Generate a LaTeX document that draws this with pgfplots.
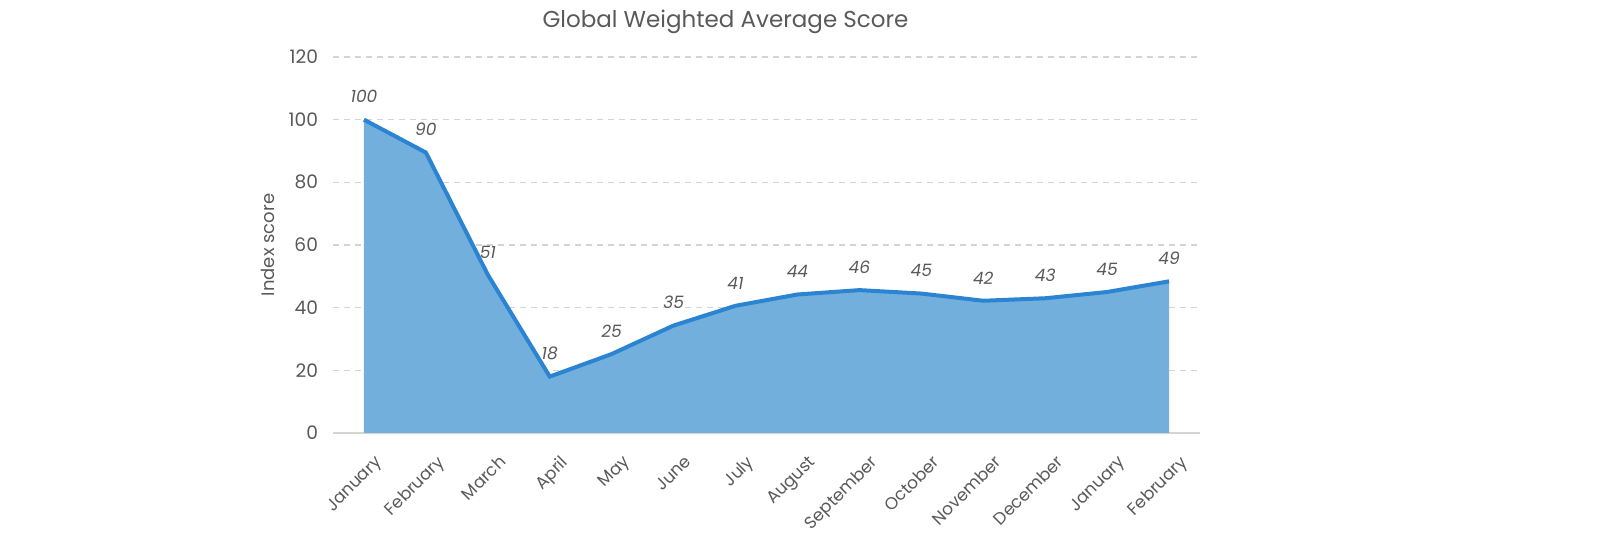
\documentclass[border=0pt]{standalone}
\usepackage{pgfplots}
\pgfplotsset{compat=1.18}
\usepackage{fontspec}
\setmainfont{Poppins}
\definecolor{linec}{HTML}{2B84D2}
\definecolor{fillc}{HTML}{72AFDD}
\definecolor{txt}{HTML}{595959}
\definecolor{gridc}{HTML}{D4D4D4}
\begin{document}
\begin{tikzpicture}
\useasboundingbox (0,0) rectangle (800pt,275pt);
\begin{axis}[
  at={(166.5pt,58.5pt)}, anchor=south west,
  scale only axis, width=433.5pt, height=188pt,
  xmin=-0.5, xmax=13.5, ymin=0, ymax=120,
  xtick={0,...,13},
  xticklabels={January,February,March,April,May,June,July,August,September,October,November,December,January,February},
  x tick label style={xshift=5pt, yshift=-9pt, rotate=45, anchor=north east, font=\fontsize{8.5}{10}\selectfont, text=txt, inner sep=1pt},
  ytick={0,20,...,120},
  y tick label style={xshift=-4pt, font=\fontsize{9.3}{11}\selectfont, text=txt},
  /pgf/number format/assume math mode=true,
  major tick length=0pt,
  axis line style={draw=none},
  ymajorgrids, grid style={gridc, dashed, line width=0.6pt, dash pattern=on 3pt off 2.5pt},
  ylabel={Index score}, ylabel style={font=\fontsize{9}{10}\selectfont, text=txt, yshift=0pt},
  title={Global Weighted Average Score},
  title style={font=\fontsize{11.5}{13}\selectfont, text=txt, yshift=2pt, xshift=-20.5pt},
  clip=false,
]
\draw[gridc, line width=0.8pt] (axis cs:-0.5,0) -- (axis cs:13.5,0);
\addplot[fill=fillc, draw=none] coordinates {
(0,100) (1,89.5) (2,50.5) (3,18) (4,25.2) (5,34.3) (6,40.6) (7,44.2) (8,45.6) (9,44.5) (10,42.2) (11,43) (12,45) (13,48.4)
} \closedcycle;
\addplot[linec, line width=2pt, mark=none,
  nodes near coords, point meta=explicit symbolic,
  every node near coord/.append style={font=\fontsize{8.5}{10}\selectfont\itshape, text=txt, yshift=4pt}]
 coordinates {
(0,100) [100] (1,89.5) [90] (2,50.5) [51] (3,18) [18] (4,25.2) [25] (5,34.3) [35] (6,40.6) [41] (7,44.2) [44] (8,45.6) [46] (9,44.5) [45] (10,42.2) [42] (11,43) [43] (12,45) [45] (13,48.4) [49]
};
\end{axis}
\end{tikzpicture}
\end{document}
